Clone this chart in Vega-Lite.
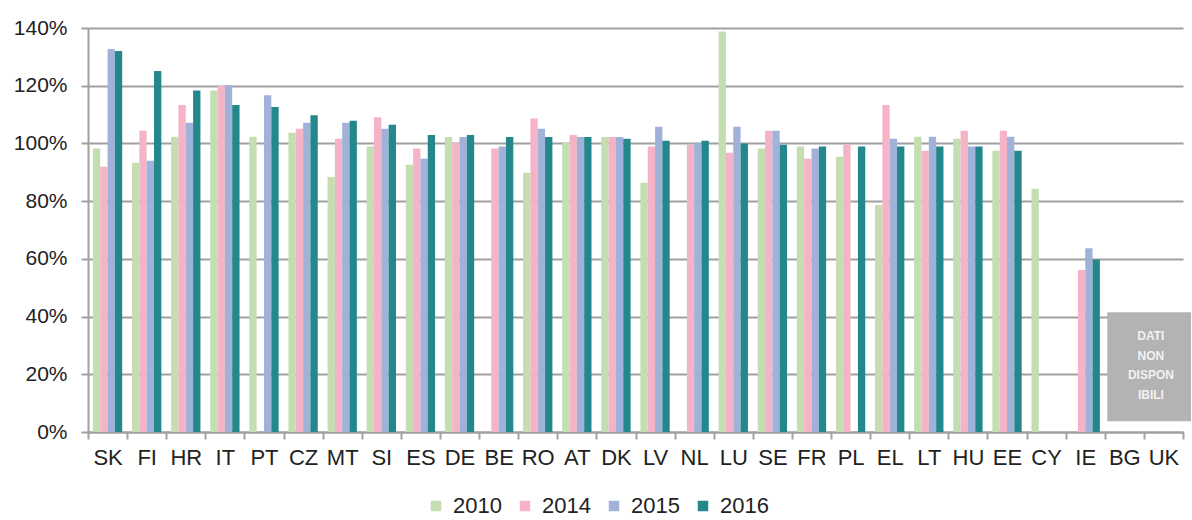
{
  "$schema": "https://vega.github.io/schema/vega-lite/v6.json",
  "width": 1095,
  "height": 404,
  "autosize": {"type": "none"},
  "padding": {"left": 88, "top": 28, "right": 9, "bottom": 88},
  "background": "white",
  "config": {
    "view": {"stroke": null},
    "font": "Liberation Sans",
    "axis": {"labelFont": "Liberation Sans", "labelColor": "#222222", "domainColor": "#a0a0a0", "tickColor": "#a0a0a0", "gridColor": "#a0a0a0", "domainWidth": 2, "tickWidth": 2, "gridWidth": 2, "title": null}
  },
  "datasets": {
    "bars": [
      {"country": "SK", "year": "2010", "value": 0.982}, {"country": "SK", "year": "2014", "value": 0.919}, {"country": "SK", "year": "2015", "value": 1.327}, {"country": "SK", "year": "2016", "value": 1.320},
      {"country": "FI", "year": "2010", "value": 0.933}, {"country": "FI", "year": "2014", "value": 1.044}, {"country": "FI", "year": "2015", "value": 0.940}, {"country": "FI", "year": "2016", "value": 1.251},
      {"country": "HR", "year": "2010", "value": 1.023}, {"country": "HR", "year": "2014", "value": 1.133}, {"country": "HR", "year": "2015", "value": 1.072}, {"country": "HR", "year": "2016", "value": 1.183},
      {"country": "IT", "year": "2010", "value": 1.183}, {"country": "IT", "year": "2014", "value": 1.199}, {"country": "IT", "year": "2015", "value": 1.202}, {"country": "IT", "year": "2016", "value": 1.133},
      {"country": "PT", "year": "2010", "value": 1.023}, {"country": "PT", "year": "2015", "value": 1.167}, {"country": "PT", "year": "2016", "value": 1.126},
      {"country": "CZ", "year": "2010", "value": 1.037}, {"country": "CZ", "year": "2014", "value": 1.051}, {"country": "CZ", "year": "2015", "value": 1.072}, {"country": "CZ", "year": "2016", "value": 1.098},
      {"country": "MT", "year": "2010", "value": 0.884}, {"country": "MT", "year": "2014", "value": 1.016}, {"country": "MT", "year": "2015", "value": 1.072}, {"country": "MT", "year": "2016", "value": 1.079},
      {"country": "SI", "year": "2010", "value": 0.989}, {"country": "SI", "year": "2014", "value": 1.091}, {"country": "SI", "year": "2015", "value": 1.051}, {"country": "SI", "year": "2016", "value": 1.065},
      {"country": "ES", "year": "2010", "value": 0.926}, {"country": "ES", "year": "2014", "value": 0.982}, {"country": "ES", "year": "2015", "value": 0.947}, {"country": "ES", "year": "2016", "value": 1.029},
      {"country": "DE", "year": "2010", "value": 1.022}, {"country": "DE", "year": "2014", "value": 1.002}, {"country": "DE", "year": "2015", "value": 1.022}, {"country": "DE", "year": "2016", "value": 1.029},
      {"country": "BE", "year": "2014", "value": 0.982}, {"country": "BE", "year": "2015", "value": 0.989}, {"country": "BE", "year": "2016", "value": 1.022},
      {"country": "RO", "year": "2010", "value": 0.898}, {"country": "RO", "year": "2014", "value": 1.086}, {"country": "RO", "year": "2015", "value": 1.051}, {"country": "RO", "year": "2016", "value": 1.022},
      {"country": "AT", "year": "2010", "value": 1.002}, {"country": "AT", "year": "2014", "value": 1.029}, {"country": "AT", "year": "2015", "value": 1.022}, {"country": "AT", "year": "2016", "value": 1.022},
      {"country": "DK", "year": "2010", "value": 1.022}, {"country": "DK", "year": "2014", "value": 1.022}, {"country": "DK", "year": "2015", "value": 1.022}, {"country": "DK", "year": "2016", "value": 1.016},
      {"country": "LV", "year": "2010", "value": 0.864}, {"country": "LV", "year": "2014", "value": 0.989}, {"country": "LV", "year": "2015", "value": 1.058}, {"country": "LV", "year": "2016", "value": 1.009},
      {"country": "NL", "year": "2014", "value": 0.995}, {"country": "NL", "year": "2015", "value": 1.002}, {"country": "NL", "year": "2016", "value": 1.009},
      {"country": "LU", "year": "2010", "value": 1.388}, {"country": "LU", "year": "2014", "value": 0.968}, {"country": "LU", "year": "2015", "value": 1.058}, {"country": "LU", "year": "2016", "value": 1.000},
      {"country": "SE", "year": "2010", "value": 0.982}, {"country": "SE", "year": "2014", "value": 1.044}, {"country": "SE", "year": "2015", "value": 1.044}, {"country": "SE", "year": "2016", "value": 0.995},
      {"country": "FR", "year": "2010", "value": 0.989}, {"country": "FR", "year": "2014", "value": 0.947}, {"country": "FR", "year": "2015", "value": 0.982}, {"country": "FR", "year": "2016", "value": 0.989},
      {"country": "PL", "year": "2010", "value": 0.954}, {"country": "PL", "year": "2014", "value": 0.995}, {"country": "PL", "year": "2016", "value": 0.989},
      {"country": "EL", "year": "2010", "value": 0.787}, {"country": "EL", "year": "2014", "value": 1.133}, {"country": "EL", "year": "2015", "value": 1.016}, {"country": "EL", "year": "2016", "value": 0.989},
      {"country": "LT", "year": "2010", "value": 1.023}, {"country": "LT", "year": "2014", "value": 0.975}, {"country": "LT", "year": "2015", "value": 1.023}, {"country": "LT", "year": "2016", "value": 0.989},
      {"country": "HU", "year": "2010", "value": 1.016}, {"country": "HU", "year": "2014", "value": 1.044}, {"country": "HU", "year": "2015", "value": 0.989}, {"country": "HU", "year": "2016", "value": 0.989},
      {"country": "EE", "year": "2010", "value": 0.975}, {"country": "EE", "year": "2014", "value": 1.044}, {"country": "EE", "year": "2015", "value": 1.023}, {"country": "EE", "year": "2016", "value": 0.975},
      {"country": "CY", "year": "2010", "value": 0.843},
      {"country": "IE", "year": "2014", "value": 0.561}, {"country": "IE", "year": "2015", "value": 0.637}, {"country": "IE", "year": "2016", "value": 0.598}
    ],
    "box": [{"from": "BG", "to": "UK", "lo": 0.037, "hi": 0.415}],
    "note": [{"at": "UK", "y": 0.349, "label": "DATI\nNON\nDISPON\nIBILI"}]
  },
  "layer": [
    {
      "data": {"name": "bars"},
      "mark": {"type": "bar"},
      "encoding": {
        "x": {
          "field": "country", "type": "nominal",
          "scale": {"domain": ["SK","FI","HR","IT","PT","CZ","MT","SI","ES","DE","BE","RO","AT","DK","LV","NL","LU","SE","FR","PL","EL","LT","HU","EE","CY","IE","BG","UK"], "paddingInner": 0, "paddingOuter": 0},
          "axis": {"labelAngle": 0, "labelFontSize": 22, "tickSize": 7, "tickBand": "extent", "labelPadding": 8, "grid": false}
        },
        "xOffset": {"field": "year", "type": "nominal", "scale": {"domain": ["2010","2014","2015","2016"], "paddingInner": 0, "paddingOuter": 0.667}},
        "y": {
          "field": "value", "type": "quantitative",
          "scale": {"domain": [0, 1.4], "nice": false},
          "axis": {"values": [0, 0.2, 0.4, 0.6, 0.8, 1.0, 1.2, 1.4], "format": ".0%", "labelFontSize": 21, "tickSize": 7, "labelPadding": 14, "grid": true}
        },
        "color": {
          "field": "year", "type": "nominal",
          "scale": {"domain": ["2010","2014","2015","2016"], "range": ["#c4deb2", "#f5b4c6", "#a1b2da", "#23878b"]},
          "legend": {"orient": "none", "direction": "horizontal", "legendX": 337, "legendY": 467, "title": null, "symbolType": "square", "symbolSize": 110, "symbolStrokeWidth": 0, "labelFontSize": 22, "labelColor": "#222222", "labelOffset": 6, "columnPadding": 12}
        }
      }
    },
    {
      "data": {"name": "box"},
      "mark": {"type": "rect", "color": "#b3b3b3", "xOffset": 2.5, "x2Offset": 8},
      "encoding": {
        "x": {"field": "from", "type": "nominal", "bandPosition": 0},
        "x2": {"field": "to", "bandPosition": 1},
        "y": {"field": "lo", "type": "quantitative"},
        "y2": {"field": "hi"}
      }
    },
    {
      "data": {"name": "note"},
      "mark": {"type": "text", "lineBreak": "\n", "lineHeight": 19.5, "fontSize": 12, "fontWeight": "bold", "color": "#f2f2f2", "xOffset": 7, "align": "center", "baseline": "top"},
      "encoding": {
        "x": {"field": "at", "type": "nominal", "bandPosition": 0},
        "y": {"field": "y", "type": "quantitative"},
        "text": {"field": "label"}
      }
    }
  ]
}
